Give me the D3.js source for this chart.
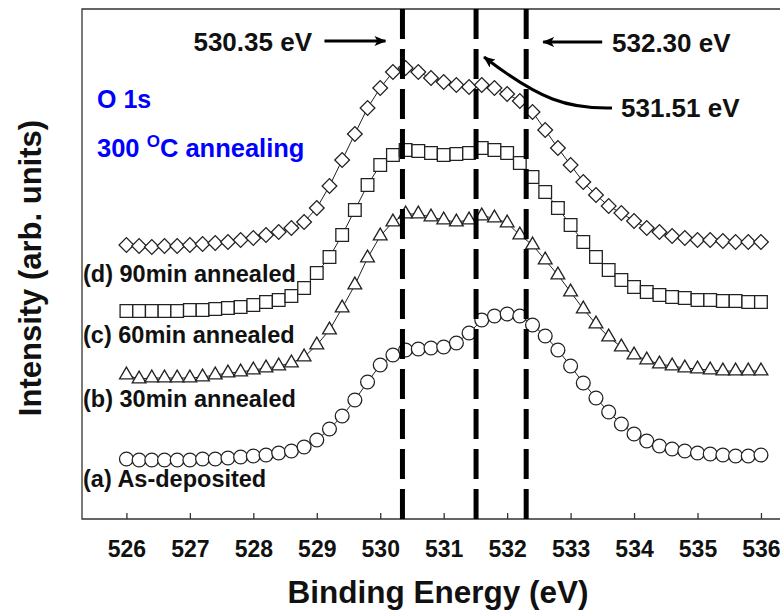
<!DOCTYPE html>
<html>
<head>
<meta charset="utf-8">
<script src="https://cdn.jsdelivr.net/npm/d3@7"></script>
<style>
	body { margin: 0; background: #fff; }
	svg { display: block; font-family: 'Liberation Sans', Arial, sans-serif; }
	.lbl { font-weight: bold; fill: #111; }
</style>
</head>
<body>
<svg id="chart" width="780" height="614"></svg>
<script>
// binding energy grid (eV)
const energy = [526, 526.2, 526.4, 526.6, 526.8, 527, 527.2, 527.4, 527.6, 527.8,
	528, 528.2, 528.4, 528.6, 528.8, 529, 529.2, 529.4, 529.6, 529.8,
	530, 530.2, 530.4, 530.6, 530.8, 531, 531.2, 531.4, 531.6, 531.8,
	532, 532.2, 532.4, 532.6, 532.8, 533, 533.2, 533.4, 533.6, 533.8,
	534, 534.2, 534.4, 534.6, 534.8, 535, 535.2, 535.4, 535.6, 535.8, 536];

// intensities (arb. units, curves already offset)
const asDeposited = [60, 59, 59, 59, 59, 59, 60, 60, 61, 62,
	63, 64, 66, 68, 72, 79, 90, 103, 119, 137,
	154, 164, 169, 170, 171, 172, 176, 186, 199, 203,
	205, 203, 194, 183, 169, 153, 136, 121, 107, 95,
	85, 78, 73, 70, 68, 66, 65, 64, 63, 63, 64];
const min30 = [144, 140, 141, 141, 141, 141, 142, 144, 146, 147,
	149, 151, 153, 156, 162, 174, 189, 211, 234, 261,
	283, 297, 305, 305, 302, 299, 297, 299, 303, 301,
	296, 284, 274, 259, 244, 227, 210, 195, 182, 172,
	164, 159, 155, 153, 151, 150, 149, 148, 148, 148, 148];
const min60 = [208, 208, 208, 208, 208, 209, 209, 210, 211, 212,
	214, 217, 219, 223, 231, 246, 262, 284, 309, 334,
	354, 364, 369, 368, 366, 364, 365, 366, 371, 369,
	366, 356, 342, 327, 311, 294, 277, 262, 249, 239,
	232, 227, 224, 222, 221, 219, 219, 218, 218, 217, 217];
const min90 = [274, 273, 272, 273, 273, 274, 275, 276, 277, 279,
	281, 284, 287, 291, 297, 311, 333, 359, 385, 411,
	431, 447, 451, 447, 441, 437, 434, 432, 434, 431,
	425, 418, 407, 389, 371, 354, 337, 324, 313, 306,
	298, 291, 287, 283, 281, 279, 279, 278, 277, 277, 277];

const seriesNames = ['(a) As-deposited', '(b) 30min annealed', '(c) 60min annealed', '(d) 90min annealed'];
const seriesValues = [asDeposited, min30, min60, min90];
const seriesShapes = ['circle', 'triangle', 'square', 'diamond'];
// where each curve label sits (intensity units)
const labelLevels = [32, 112, 176, 237];

const xTicks = [526, 527, 528, 529, 530, 531, 532, 533, 534, 535, 536];
const peakLines = [530.35, 531.51, 532.30];
const peakLabels = ['530.35 eV', '531.51 eV', '532.30 eV'];

const frame = {x1: 82, x2: 781, y1: 9, y2: 519};

const svg = d3.select('#chart');

const x = d3.scaleLinear()
	.domain([525.3, 536.3])
	.range([frame.x1, frame.x2 - 1]);
const y = d3.scaleLinear()
	.domain([0, 510])
	.range([frame.y2, frame.y1]);

// frame: left, top, bottom
const gAxis = svg.append('g').attr('class', 'g_axis');
gAxis.append('path')
	.attr('d', 'M' + frame.x2 + ',' + frame.y1 + 'H' + frame.x1 + 'V' + frame.y2 + 'H' + frame.x2)
	.attr('fill', 'none')
	.attr('stroke', '#333')
	.attr('stroke-width', 1.3);

const xAxis = d3.axisBottom(x)
	.tickValues(xTicks)
	.tickSizeInner(-6)
	.tickSizeOuter(0)
	.tickPadding(22)
	.tickFormat(d3.format('d'));

gAxis.append('g')
	.attr('transform', 'translate(0,' + frame.y2 + ')')
	.call(xAxis)
	.call(g => g.select('.domain').remove())
	.call(g => g.selectAll('line').attr('stroke', '#333').attr('stroke-width', 1.3))
	.call(g => g.selectAll('text')
		.attr('fill', '#111')
		.style('font-size', '23px')
		.style('font-weight', 'bold')
		.style('font-family', "'Liberation Sans', Arial, sans-serif"));

// curves
const line = d3.line()
	.x((d, i) => x(energy[i]))
	.y(d => y(d));

const symbolFor = {
	circle: d3.symbol().type(d3.symbolCircle).size(150),
	triangle: d3.symbol().type(d3.symbolTriangle).size(82),
	square: d3.symbol().type(d3.symbolSquare).size(160),
	diamond: d3.symbol().type(d3.symbolSquare).size(108)
};

const gSeries = svg.append('g').attr('class', 'g_series');

seriesValues.forEach(function(vals, sIdx) {
	const shape = seriesShapes[sIdx];
	const gS = gSeries.append('g').attr('class', 'g_curve g_curve_' + sIdx);

	gS.append('path')
		.datum(vals)
		.attr('d', line)
		.attr('fill', 'none')
		.attr('stroke', '#222')
		.attr('stroke-width', 1);

	gS.selectAll('.pt')
		.data(vals).enter()
		.append('path')
		.attr('class', 'pt')
		.attr('d', symbolFor[shape])
		.attr('transform', (d, i) => 'translate(' + x(energy[i]) + ',' + y(d) + ')' +
			(shape === 'diamond' ? ' rotate(45)' : '')
		)
		.attr('fill', '#fff')
		.attr('stroke', '#222')
		.attr('stroke-width', 1.3);
});

// series labels
svg.append('g')
	.selectAll('text')
	.data(seriesNames).enter()
	.append('text')
	.attr('class', 'lbl')
	.attr('x', frame.x1 + 1)
	.attr('y', (d, i) => y(labelLevels[i]))
	.style('font-size', '23.5px')
	.text(d => d);

// peak position lines
svg.append('g')
	.selectAll('line')
	.data(peakLines).enter()
	.append('line')
	.attr('x1', d => x(d))
	.attr('x2', d => x(d))
	.attr('y1', frame.y1)
	.attr('y2', frame.y2)
	.attr('stroke', '#000')
	.attr('stroke-width', 5)
	.attr('stroke-dasharray', '30,10');

// arrows
const defs = svg.append('defs');
defs.append('marker')
	.attr('id', 'head')
	.attr('viewBox', '0 0 12 10')
	.attr('refX', 11)
	.attr('refY', 5)
	.attr('markerWidth', 12)
	.attr('markerHeight', 10)
	.attr('markerUnits', 'userSpaceOnUse')
	.attr('orient', 'auto')
	.append('path')
	.attr('d', 'M0,0 L12,5 L0,10 L3,5 Z')
	.attr('fill', '#000');

const gAnn = svg.append('g').attr('class', 'g_annot');

gAnn.append('path')
	.attr('d', 'M' + (x(peakLines[0]) - 78) + ',41 H' + (x(peakLines[0]) - 17))
	.attr('stroke', '#000').attr('stroke-width', 3).attr('fill', 'none')
	.attr('marker-end', 'url(#head)');
gAnn.append('path')
	.attr('d', 'M' + (x(peakLines[2]) + 76) + ',42 H' + (x(peakLines[2]) + 17))
	.attr('stroke', '#000').attr('stroke-width', 3).attr('fill', 'none')
	.attr('marker-end', 'url(#head)');
gAnn.append('path')
	.attr('d', 'M612,108 C568,109 540,100 ' + (x(peakLines[1]) + 8) + ',57')
	.attr('stroke', '#000').attr('stroke-width', 3).attr('fill', 'none')
	.attr('marker-end', 'url(#head)');

gAnn.append('text')
	.attr('class', 'lbl')
	.attr('x', 312).attr('y', 51)
	.attr('text-anchor', 'end')
	.style('font-size', '26px')
	.text(peakLabels[0]);
gAnn.append('text')
	.attr('class', 'lbl')
	.attr('x', 621).attr('y', 117)
	.style('font-size', '26px')
	.text(peakLabels[1]);
gAnn.append('text')
	.attr('class', 'lbl')
	.attr('x', 612).attr('y', 52)
	.style('font-size', '26px')
	.text(peakLabels[2]);

// blue sample notes
gAnn.append('text')
	.attr('x', 97).attr('y', 108)
	.attr('fill', '#0000ff')
	.style('font-size', '25px').style('font-weight', 'bold')
	.text('O 1s');
const t300 = gAnn.append('text')
	.attr('x', 97).attr('y', 157)
	.attr('fill', '#0000ff')
	.style('font-size', '25.5px').style('font-weight', 'bold');
t300.append('tspan').text('300 ');
t300.append('tspan').attr('dy', -10).style('font-size', '17px').text('O');
t300.append('tspan').attr('dy', 10).text('C annealing');

// axis titles
svg.append('text')
	.attr('class', 'lbl')
	.attr('x', 438).attr('y', 603)
	.attr('text-anchor', 'middle')
	.style('font-size', '31.5px')
	.text('Binding Energy (eV)');
svg.append('text')
	.attr('class', 'lbl')
	.attr('transform', 'translate(41,268) rotate(-90)')
	.attr('text-anchor', 'middle')
	.style('font-size', '31px')
	.text('Intensity (arb. units)');
</script>
</body>
</html>
